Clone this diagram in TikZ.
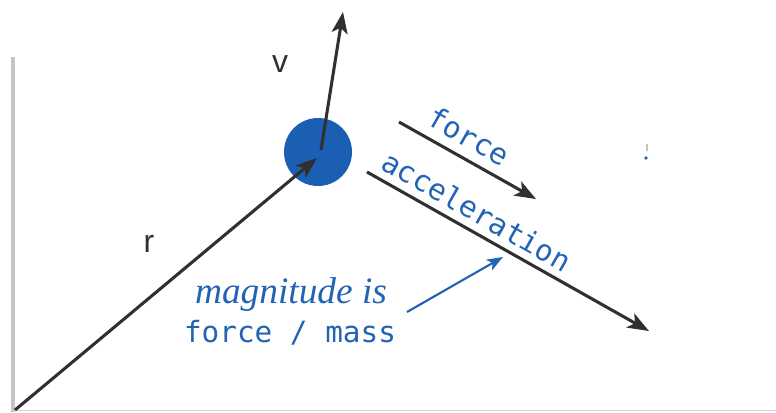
\documentclass[tikz,border=0pt]{standalone}
\usepackage{fontspec}
\setmainfont{Liberation Serif}
\newfontfamily\labelfont{Liberation Sans}
\newfontfamily\codefont{DejaVu Sans Mono}
\usetikzlibrary{arrows.meta}
\definecolor{ballblue}{HTML}{1B5FB4}
\definecolor{txtblue}{HTML}{2263B3}
\definecolor{dark}{HTML}{303030}
\definecolor{framegray}{HTML}{C4C4C4}
\begin{document}
\begin{tikzpicture}[x=0.75pt,y=-0.75pt,
  vec/.style={draw=dark,line width=2.3pt,-{Stealth[length=16pt,width=12pt,inset=4pt]}},
  note/.style={draw=txtblue,line width=1.6pt,-{Stealth[length=12pt,width=9pt,inset=3pt]}},
  code/.style={font=\codefont\fontsize{22}{26}\selectfont,text=txtblue,inner sep=0pt},
  vlabel/.style={font=\labelfont\fontsize{24}{28}\selectfont,text=dark,inner sep=0pt},
  ]
\useasboundingbox (0,0) rectangle (776,412);
% frame lines
\draw[framegray,line width=2.8pt] (13,57) -- (13,412);
\draw[framegray!70,line width=1.2pt] (13,410.5) -- (776,410.5);
% ball
\fill[ballblue] (318,152) circle (34);
\coordinate (c) at (321,150);
\coordinate (o) at (15,410);
\coordinate (rt) at (317,158);
\coordinate (vt) at (343,12);
\draw[vec] (o) -- (rt);
\draw[vec] (c) -- (vt);
\node[vlabel] (v) at (280,64) {v};
\node[vlabel] (r) at (149,244) {r};
% force and acceleration
\coordinate (f1) at (399,122);
\coordinate (f2) at (536,199);
\draw[vec] (f1) -- (f2);
\coordinate (a1) at (367,172);
\coordinate (a2) at (649,331);
\draw[vec] (a1) -- (a2);
\node[code,rotate=-29.7] (ft) at (469,136) {force};
\node[code,rotate=-29.7] (at) at (477,211) {acceleration};
% note
\node[font=\itshape\fontsize{28}{32}\selectfont,text=txtblue,inner sep=0pt] (m1) at (291,295) {magnitude is};
\node[code] (m2) at (290,333) {force / mass};
\coordinate (n1) at (407,312);
\coordinate (n2) at (503,257);
\draw[note] (n1) -- (n2);
% small fragment at right
\fill[txtblue] (646,158) circle (1.8);
\draw[framegray,line width=0.8pt] (647,144) -- (647,151);
\end{tikzpicture}
\end{document}
